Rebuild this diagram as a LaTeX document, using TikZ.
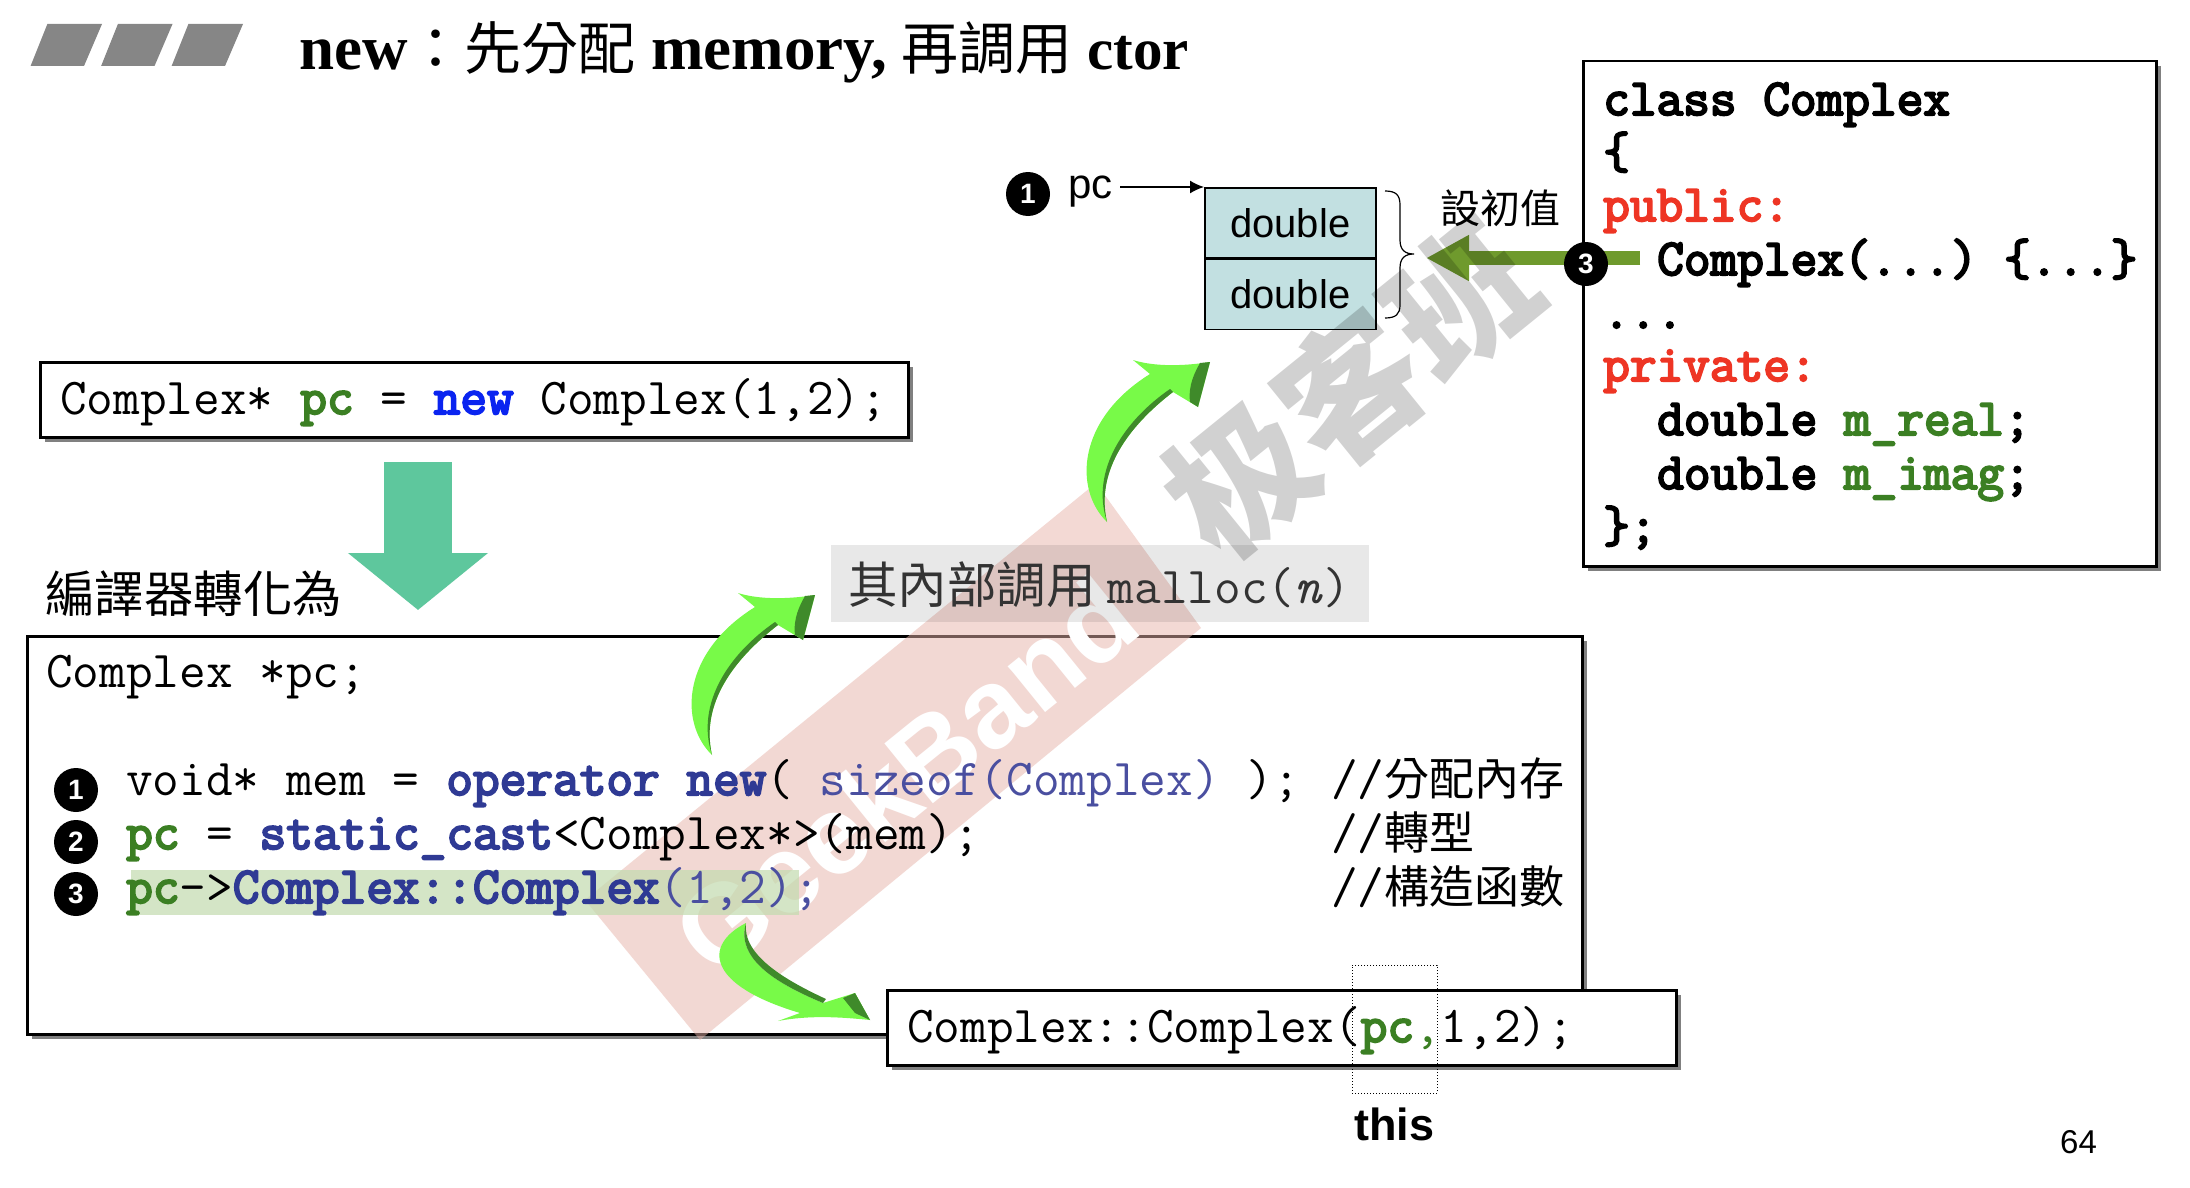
\documentclass[tikz,border=0pt]{standalone}
\usepackage{fontspec}
\usetikzlibrary{arrows.meta,positioning,shadows}
\setmonofont{Latin Modern Mono}[BoldFont={Latin Modern Mono},BoldFeatures={FakeBold=4}]
\newfontfamily\cjk{Noto Sans CJK TC}
\newfontfamily\cjksc{Noto Sans CJK SC}
\newfontfamily\arial{Liberation Sans}
\newfontfamily\serifface{Liberation Serif}
\definecolor{barfill}{HTML}{868686}
\definecolor{tealarrow}{HTML}{5EC79D}
\definecolor{cellfill}{HTML}{C2E0E1}
\definecolor{olive}{HTML}{6F9A2D}
\definecolor{pcgreen}{HTML}{3B7F23}
\definecolor{navy}{HTML}{2F3A94}
\definecolor{softnavy}{HTML}{4A4FA0}
\definecolor{newblue}{HTML}{0A24F0}
\definecolor{redword}{HTML}{EE3524}
\definecolor{bandpink}{HTML}{E7B3A9}
\definecolor{hlgreen}{HTML}{C2DBAE}
\definecolor{swooshlight}{HTML}{78FA48}
\definecolor{swooshdark}{HTML}{3F8A2A}
\newcommand{\pcword}[1]{\textbf{\textcolor{pcgreen}{#1}}}
\newcommand{\kw}[1]{\textbf{\textcolor{navy}{#1}}}
\newcommand{\redword}[1]{\textbf{\textcolor{redword}{#1}}}
\newcommand{\zh}[1]{{\cjk\fontsize{45}{50}\selectfont #1}}
\begin{document}
\begin{tikzpicture}[x=1pt,y=-1pt,>=Latex,
 codeline/.style={anchor=base west,inner sep=0pt,font=\fontsize{51.8}{60}\selectfont\ttfamily},
 codebox/.style={draw,line width=2.5pt,fill=white,anchor=north west,inner sep=0pt,
  drop shadow={shadow xshift=5pt,shadow yshift=-5pt,fill=gray,opacity=1}},
 cell/.style={draw,line width=1.5pt,fill=cellfill,minimum width=171pt,minimum height=70pt,inner sep=0pt,
  font=\arial\fontsize{40}{46}\selectfont},
 badge/.style={circle,fill=black,text=white,minimum size=44pt,inner sep=0pt,
  font=\arial\bfseries\fontsize{28}{30}\selectfont},
 swoosh/.pic={
  \fill[swooshlight] (1107,522) .. controls (1074,490) and (1076,420) .. (1150,374) -- (1133,360)
   .. controls (1155,367) and (1185,366) .. (1210,362) -- (1198,407) -- (1173,392)
   .. controls (1130,425) and (1095,470) .. (1107,522) -- cycle;
  \fill[swooshdark] (1173,392) .. controls (1130,425) and (1095,470) .. (1107,522)
   .. controls (1090,470) and (1125,420) .. (1170,389) -- cycle;
  \fill[swooshdark] (1210,362) -- (1198,407) -- (1190,402) .. controls (1188,385) and (1195,372) .. (1200,363) -- cycle;
 },
 swooshdown/.pic={
  \fill[swooshlight] (746,923) .. controls (703,945) and (706,985) .. (800,1013) -- (778,1021)
   .. controls (810,1015) and (840,1017) .. (870,1020) -- (855,993) -- (823,1003)
   .. controls (780,985) and (735,960) .. (746,923) -- cycle;
  \fill[swooshdark] (746,923) .. controls (735,960) and (780,985) .. (823,1003) -- (826,999)
   .. controls (785,980) and (742,955) .. (746,923) -- cycle;
  \fill[swooshdark] (855,993) -- (870,1020) -- (855,1013) -- (843,998) -- cycle;
 }]
\useasboundingbox (0,0) rectangle (2190,1188);
\foreach \i in {0,1,2}
 \fill[barfill,xshift=\i*70.5pt] (30.6,66) -- (84,66) -- (102,24) -- (47.4,24) -- cycle;
\node[anchor=base west,inner sep=0pt,font=\serifface\bfseries\fontsize{63}{68}\selectfont] (title) at (299,70)
 {new{\cjk\mdseries\fontsize{57}{64}\selectfont ：先分配} memory,\hspace{14pt}{\cjk\mdseries\fontsize{57}{64}\selectfont 再調用}\hspace{15pt}{\fontsize{59}{64}\selectfont ctor}};
\node[codebox,minimum width=868pt,minimum height=75pt] (newbox) at (39,361) {};
\node[codeline] (newline) at (60,414) {Complex* \pcword{pc} = \textbf{\textcolor{newblue}{new}} Complex(1,2);};
\coordinate (tealtop) at (418,462);
\coordinate (tealtip) at (418,610);
\draw[tealarrow,line width=68pt,-{Triangle[width=137pt,length=57pt]}] (tealtop) -- (tealtip);
\node[anchor=west,inner sep=0pt,font=\cjk\fontsize{49.5}{54}\selectfont] (compiler) at (45,594) {編譯器轉化為};
\node[codebox,minimum width=1555pt,minimum height=398pt] (lowered) at (26,635) {};
\fill[bandpink,opacity=.5] (1096,483) -- (1201,628) -- (700,1040) -- (585,900) -- cycle;
\node[white,rotate=39,inner sep=0pt,font=\arial\bfseries\fontsize{112}{120}\selectfont] (geekband) at (905,775) {GeekBand};
\fill[hlgreen,opacity=.7] (131,870) rectangle (799,915);
\node[fill=black,fill opacity=.09,text opacity=1,minimum width=538pt,minimum height=77pt,inner sep=0pt] (mallocbox) at (1100,583.5) {};
\node[anchor=base west,inner sep=0pt,text=black!80] (mallocline) at (848,603)
 {{\cjk\fontsize{49.5}{54}\selectfont 其內部調用}\hspace{12pt}{\fontsize{51.8}{60}\selectfont\ttfamily malloc(\textit{n})}};
\node[codeline] (declline) at (46,687) {Complex *pc;};
\node[badge] (stepone) at (76,790) {1};
\node[badge] (steptwo) at (76,842) {2};
\node[badge] (stepthree) at (76,894) {3};
\node[codeline] (allocline) at (126,795) {void* mem = \kw{operator new}( \textcolor{softnavy}{sizeof(Complex)} );};
\node[codeline] (castline) at (126,849) {\pcword{pc} = \kw{static\_cast}<Complex*>(mem);};
\node[codeline] (ctorline) at (126,903) {\pcword{pc}->\kw{Complex::Complex}\textcolor{softnavy}{(1,2);}};
\node[codeline] (allocnote) at (1331,795) {//\zh{分配內存}};
\node[codeline] (castnote) at (1331,849) {//\zh{轉型}};
\node[codeline] (ctornote) at (1331,903) {//\zh{構造函數}};
\pic {swoosh};
\pic[shift={(-395,233)}] {swoosh};
\pic {swooshdown};
\node[codebox,minimum width=789pt,minimum height=75pt] (callbox) at (886,989) {};
\node[codeline] (callline) at (907,1042) {Complex::Complex(\pcword{pc}\textcolor{pcgreen}{,}1,2);};
\node[draw,dotted,line width=1pt,minimum width=85pt,minimum height=128pt,inner sep=0pt] (thisframe) at (1394.5,1029) {};
\node[inner sep=0pt,font=\arial\bfseries\fontsize{45}{50}\selectfont,below=14pt of thisframe] (thislabel) {this};
\node[anchor=base west,inner sep=0pt,font=\arial\fontsize{33}{36}\selectfont] (pagenum) at (2060,1153) {64};
\node[badge] (memone) at (1028,194) {1};
\node[cell,anchor=north west] (cellreal) at (1204,187) {double};
\node[cell,below=0pt of cellreal] (cellimag) {double};
\node[anchor=east,inner sep=0pt,font=\arial\fontsize{42}{46}\selectfont] (pclabel) at (1113,192) {pc};
\coordinate (pcstart) at (1120,187);
\draw[-{Latex[length=14pt,width=13pt]},line width=1.5pt] (pcstart) -- (cellreal.north west);
\coordinate (bracetop) at (1385,191);
\coordinate (bracebot) at (1385,318);
\draw[line width=1.2pt] (bracetop) .. controls (1396,191) and (1400,195) .. (1400,205) -- (1400,240)
 .. controls (1400,250) and (1405,254) .. (1414,254) .. controls (1405,254) and (1400,258) .. (1400,268)
 -- (1400,305) .. controls (1400,314) and (1396,318) .. (bracebot);
\node[inner sep=0pt,font=\cjk\fontsize{40}{44}\selectfont] (initlabel) at (1500,208) {設初值};
\node[codebox,minimum width=573pt,minimum height=505pt] (classbox) at (1582,60) {};
\node[codeline] (classa) at (1603,115) {\textbf{class Complex}};
\node[codeline] (classb) at (1603,168) {\textbf{\{}};
\node[codeline] (classc) at (1603,221) {\redword{public:}};
\node[codeline] (classd) at (1657,275) {\textbf{Complex(...) \{...\}}};
\node[codeline] (classe) at (1603,328) {\textbf{...}};
\node[codeline] (classf) at (1603,381) {\redword{private:}};
\node[codeline] (classg) at (1657,435) {\textbf{double} \pcword{m\_real}\textbf{;}};
\node[codeline] (classh) at (1657,489) {\textbf{double} \pcword{m\_imag}\textbf{;}};
\node[codeline] (classi) at (1603,542) {\textbf{\};}};
\coordinate (ctorpin) at (1640,258);
\coordinate (ctortip) at (1426,258);
\draw[olive,line width=14pt,-{Triangle[width=43pt,length=43pt]}] (ctorpin) -- (ctortip);
\node[badge] (ctorbadge) at (1586,264) {3};
\node[rotate=39,inner sep=0pt,text opacity=.18,font=\cjksc\bfseries\fontsize{142}{148}\selectfont] (watermark) at (1350,388) {极客班};
\end{tikzpicture}
\end{document}
